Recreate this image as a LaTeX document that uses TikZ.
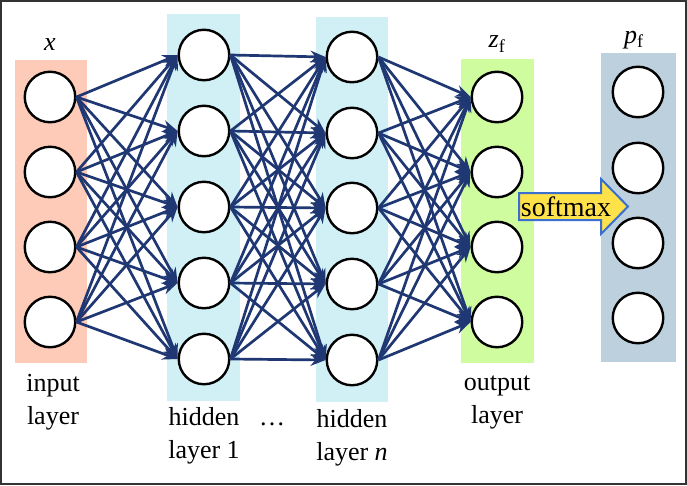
\documentclass[tikz,border=0pt]{standalone}
\usepackage{fontspec}
\setmainfont{Liberation Serif}
\usetikzlibrary{arrows.meta}
\definecolor{edgeblue}{HTML}{1F3772}
\definecolor{inpink}{HTML}{FDCBB8}
\definecolor{hidcyan}{HTML}{D0F0F5}
\definecolor{outgreen}{HTML}{D0FCA0}
\definecolor{pgray}{HTML}{BDD0DD}
\definecolor{smyellow}{HTML}{FFE14A}
\definecolor{smblue}{HTML}{3A6FCF}
\definecolor{framegray}{HTML}{333333}
\tikzset{
  neuron/.style={circle, draw=black, line width=2.4pt, fill=white, minimum size=50.5pt, inner sep=0pt},
  conn/.style={draw=edgeblue, line width=2.7pt, -{Stealth[length=15pt,width=12pt]}},
  lbl/.style={font=\fontsize{26}{33}\selectfont, align=center, text=black},
}
\begin{document}
\begin{tikzpicture}[x=1pt,y=-1pt]
\useasboundingbox (0,0) rectangle (687,485);
\fill[white] (0,0) rectangle (687,485);
% layer boxes
\fill[inpink] (15,60) rectangle (87,363);
\fill[hidcyan] (167,14) rectangle (240,401);
\fill[hidcyan] (316,17) rectangle (388,402);
\fill[outgreen] (461,59) rectangle (534,363);
\fill[pgray] (601,53) rectangle (676,362);
% neurons
\foreach \i/\y in {1/97,2/172,3/247,4/322} \node[neuron] (i\i) at (50,\y) {};
\foreach \i/\y in {1/55,2/131,3/207,4/283,5/359} \node[neuron] (a\i) at (204,\y) {};
\foreach \i/\y in {1/57,2/133,3/208,4/284,5/360} \node[neuron] (b\i) at (352,\y) {};
\foreach \i/\y in {1/97,2/172,3/247,4/322} \node[neuron] (o\i) at (497,\y) {};
\foreach \i/\y in {1/92,2/168,3/243,4/318} \node[neuron] (p\i) at (638,\y) {};
% connections
\foreach \s in {1,...,4} \foreach \t in {1,...,5} \draw[conn] (i\s.east) -- (a\t.west);
\foreach \s in {1,...,5} \foreach \t in {1,...,5} \draw[conn] (a\s.east) -- (b\t.west);
\foreach \s in {1,...,5} \foreach \t in {1,...,4} \draw[conn] (b\s.east) -- (o\t.west);
% softmax arrow
\draw[fill=smyellow, draw=smblue, line width=2pt, line join=miter]
  (519,193) -- (601,193) -- (601,179) -- (628,206.5) -- (601,234) -- (601,220) -- (519,220) -- cycle;
\node[font=\fontsize{28}{30}\selectfont, inner sep=0pt] (sm) at (566,207) {softmax};
% top labels
\node[lbl] (lx) at (50,45) {\itshape x};
\node[lbl] (lz) at (497,44) {{\itshape z}\textsubscript{f}};
\node[lbl] (lp) at (634,40) {{\itshape p}\textsubscript{f}};
% bottom labels
\node[lbl] (tin) at (53,402) {input\\layer};
\node[lbl] (th1) at (204,436) {hidden\\layer 1};
\node[lbl] (tdots) at (272,424) {\ldots};
\node[lbl] (thn) at (352,438) {hidden\\layer {\itshape n}};
\node[lbl] (tout) at (497,402) {output\\layer};
% frame
\draw[framegray, line width=2pt] (1,1) rectangle (686,484);
\end{tikzpicture}
\end{document}
